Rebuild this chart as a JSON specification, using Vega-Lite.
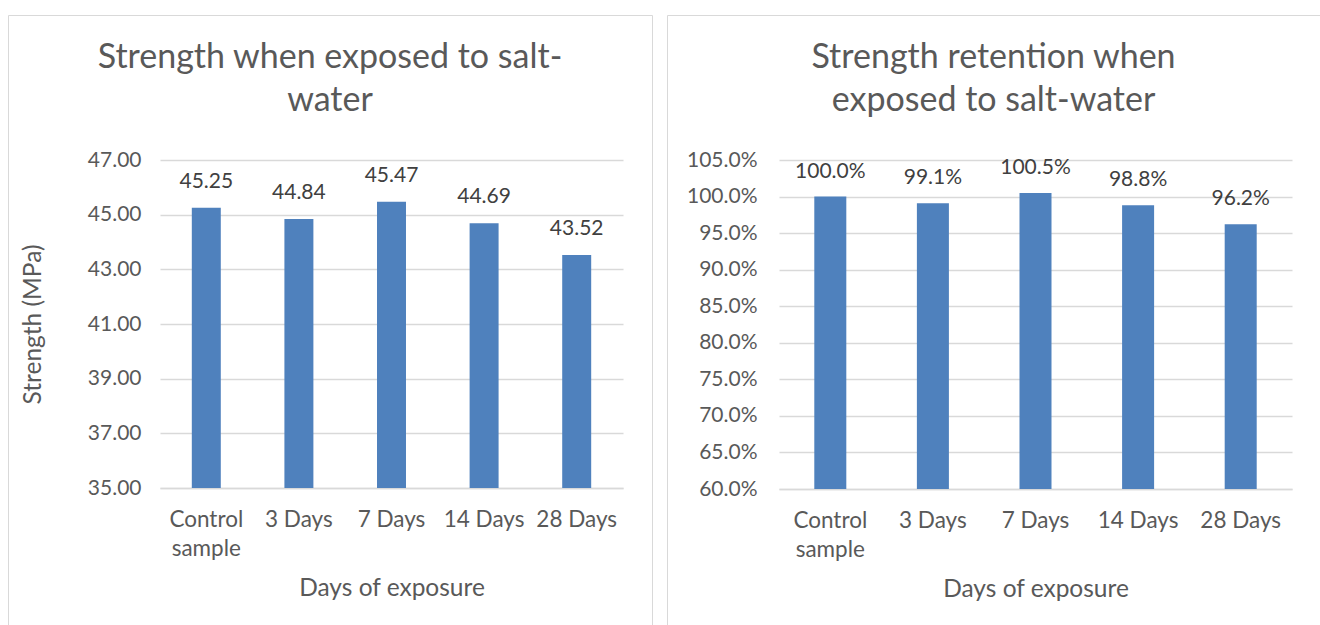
{
  "$schema": "https://vega.github.io/schema/vega-lite/v6.json",
  "padding": {"left": 7, "top": 14, "right": 0, "bottom": 0},
  "spacing": 13,
  "background": "white",
  "config": {
    "font": "Lato",
    "view": {"stroke": "#d9d9d9", "strokeWidth": 1},
    "axis": {
      "labelFont": "Lato",
      "titleFont": "Lato",
      "labelColor": "#595959",
      "titleColor": "#595959",
      "labelFontSize": 21,
      "titleFontSize": 24.5,
      "titleFontWeight": "normal",
      "gridColor": "#d9d9d9",
      "gridWidth": 1.3,
      "domainColor": "#d9d9d9",
      "domainWidth": 1.3,
      "ticks": false
    },
    "title": {
      "font": "Lato",
      "fontSize": 34,
      "fontWeight": "normal",
      "color": "#595959",
      "anchor": "middle",
      "frame": "group",
      "lineHeight": 43
    }
  },
  "datasets": {
    "strength": [
      {"exposure": "Control sample", "strength": 45.25},
      {"exposure": "3 Days", "strength": 44.84},
      {"exposure": "7 Days", "strength": 45.47},
      {"exposure": "14 Days", "strength": 44.69},
      {"exposure": "28 Days", "strength": 43.52}
    ],
    "retention": [
      {"exposure": "Control sample", "retention": 1.0},
      {"exposure": "3 Days", "retention": 0.991},
      {"exposure": "7 Days", "retention": 1.005},
      {"exposure": "14 Days", "retention": 0.988},
      {"exposure": "28 Days", "retention": 0.962}
    ]
  },
  "hconcat": [
    {
      "width": 644,
      "height": 611,
      "title": {"text": ["Strength when exposed to salt-", "water"], "offset": -103},
      "data": {"name": "strength"},
      "encoding": {
        "x": {
          "field": "exposure",
          "type": "nominal",
          "sort": null,
          "scale": {"range": [152, 615], "paddingInner": 0.687, "paddingOuter": 0.3435},
          "axis": {
            "title": "Days of exposure",
            "labelAngle": 0,
            "labelFontSize": 22.5,
            "offset": -138,
            "grid": false,
            "labelPadding": 20,
            "titlePadding": 17,
            "labelLineHeight": 29,
            "labelExpr": "datum.label == 'Control sample' ? ['Control', 'sample'] : datum.label"
          }
        }
      },
      "layer": [
        {
          "mark": {"type": "bar", "color": "#4f81bd"},
          "encoding": {
            "y": {
              "field": "strength",
              "type": "quantitative",
              "scale": {"domain": [35, 47], "range": [473, 145], "nice": false, "zero": false},
              "axis": {
                "values": [35, 37, 39, 41, 43, 45, 47],
                "format": ".2f",
                "offset": -152,
                "grid": true,
                "domain": false,
                "labelPadding": 19,
                "title": "Strength (MPa)",
                "titlePadding": 42
              }
            },
            "y2": {"datum": 35}
          }
        },
        {
          "mark": {"type": "text", "dy": -20, "baseline": "alphabetic", "fontSize": 21, "color": "#404040"},
          "encoding": {
            "y": {"field": "strength", "type": "quantitative"},
            "text": {"field": "strength", "type": "quantitative", "format": ".2f"}
          }
        }
      ]
    },
    {
      "width": 653,
      "height": 611,
      "title": {"text": ["Strength retention when", "exposed to salt-water"], "offset": -103},
      "data": {"name": "retention"},
      "encoding": {
        "x": {
          "field": "exposure",
          "type": "nominal",
          "sort": null,
          "scale": {"range": [112, 625], "paddingInner": 0.688, "paddingOuter": 0.344},
          "axis": {
            "title": "Days of exposure",
            "labelAngle": 0,
            "labelFontSize": 22.5,
            "offset": -137,
            "grid": false,
            "labelPadding": 20,
            "titlePadding": 17,
            "labelLineHeight": 29,
            "labelExpr": "datum.label == 'Control sample' ? ['Control', 'sample'] : datum.label"
          }
        }
      },
      "layer": [
        {
          "mark": {"type": "bar", "color": "#4f81bd"},
          "encoding": {
            "y": {
              "field": "retention",
              "type": "quantitative",
              "scale": {"domain": [0.6, 1.05], "range": [474, 145], "nice": false, "zero": false},
              "axis": {
                "values": [0.6, 0.65, 0.7, 0.75, 0.8, 0.85, 0.9, 0.95, 1.0, 1.05],
                "format": ".1%",
                "offset": -112,
                "grid": true,
                "domain": false,
                "labelPadding": 22,
                "title": null
              }
            },
            "y2": {"datum": 0.6}
          }
        },
        {
          "mark": {"type": "text", "dy": -19, "baseline": "alphabetic", "fontSize": 21, "color": "#404040"},
          "encoding": {
            "y": {"field": "retention", "type": "quantitative"},
            "text": {"field": "retention", "type": "quantitative", "format": ".1%"}
          }
        }
      ]
    }
  ]
}
